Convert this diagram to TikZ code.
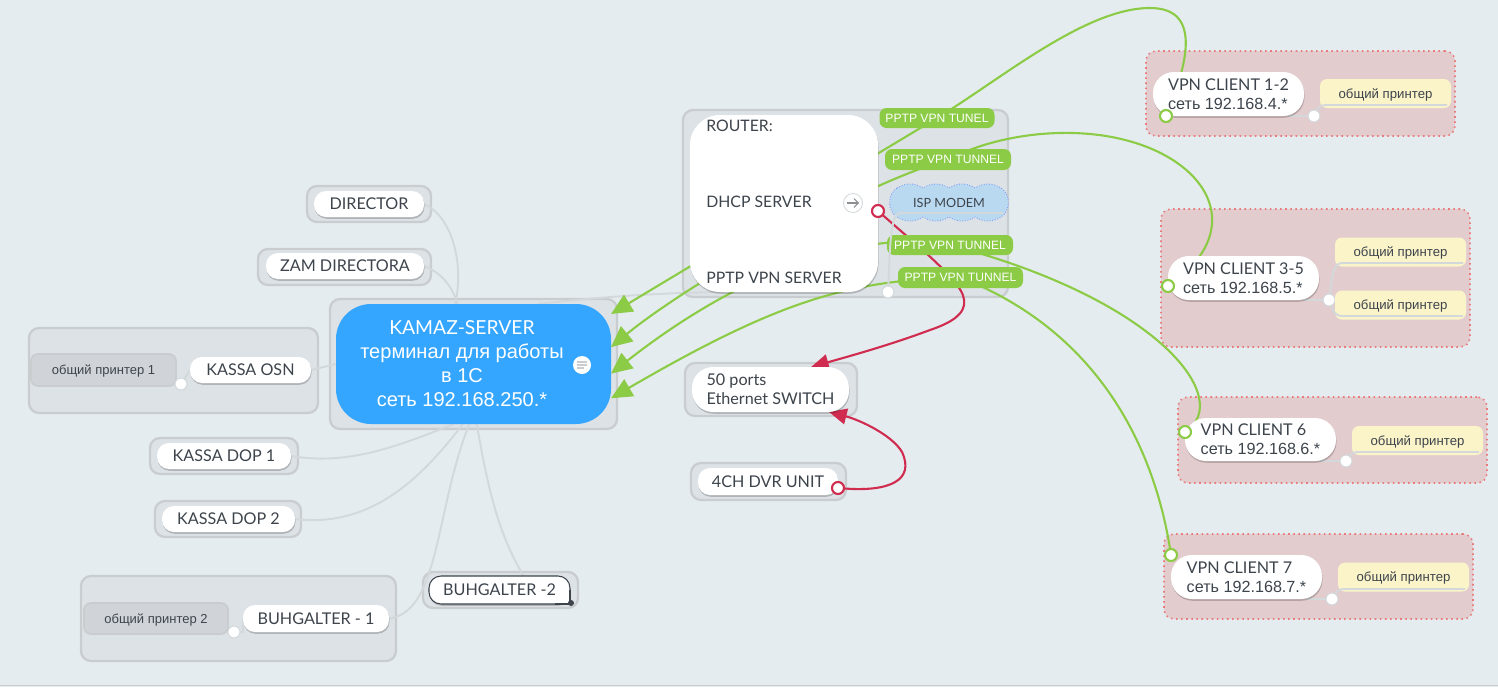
\documentclass[tikz,border=0pt]{standalone}
\usepackage{fontspec}
\setmainfont{Lato}
\newfontfamily\rufont{Liberation Sans}
\usetikzlibrary{arrows.meta,positioning,shadows}
\definecolor{pagebg}{HTML}{E5ECF0}
\definecolor{grpfill}{HTML}{DDE2E6}
\definecolor{grpline}{HTML}{C9CDD0}
\definecolor{linkgrey}{HTML}{D3D8DB}
\definecolor{pinkfill}{HTML}{E3CCCE}
\definecolor{pinkline}{HTML}{E87C7C}
\definecolor{srvblue}{HTML}{35A6FF}
\definecolor{tungreen}{HTML}{8CCB45}
\definecolor{redlink}{HTML}{D02C50}
\definecolor{prnyellow}{HTML}{FBF4C9}
\definecolor{inktext}{HTML}{3D444C}
\definecolor{cloudblue}{HTML}{B9D9F0}
\pgfdeclarelayer{back}
\pgfdeclarelayer{links}
\pgfdeclarelayer{front}
\pgfsetlayers{back,links,main,front}
\tikzset{every shadow/.style={fill=black,opacity=0.2,shadow xshift=0.3pt,shadow yshift=-1pt}}
\tikzset{sz/.style 2 args={minimum width=#1*0.02cm,minimum height=#2*0.02cm,inner sep=0pt,outer sep=0pt}}
\tikzset{grpbox/.style={rectangle,rounded corners=0.2cm,draw=grpline,line width=1.3pt,fill=grpfill}}
\tikzset{pinkbox/.style={rectangle,rounded corners=0.2cm,draw=pinkline,line width=0.9pt,dotted,fill=pinkfill}}
\tikzset{pill/.style={rectangle,rounded corners=0.24cm,fill=white,drop shadow,text=inktext,align=left,font=\fontsize{9.2}{10.6}\selectfont}}
\tikzset{pilltwo/.style={pill,rounded corners=0.42cm}}
\tikzset{tunlabel/.style={rectangle,rounded corners=0.14cm,fill=tungreen,text=white,font=\rufont\fontsize{6.9}{8}\selectfont}}
\tikzset{prnyel/.style={rectangle,rounded corners=0.14cm,fill=prnyellow,text=inktext,text depth=0pt,font=\rufont\fontsize{7.5}{8}\selectfont}}
\tikzset{prngrey/.style={rectangle,rounded corners=0.14cm,draw=grpline,line width=1pt,fill=grpfill!94!black,text=inktext,text depth=0pt,font=\rufont\fontsize{7.4}{8}\selectfont}}
\tikzset{whitedot/.style={circle,sz={12}{12},fill=white,draw=linkgrey,line width=0.6pt}}
\tikzset{greendot/.style={circle,sz={12}{12},fill=white,draw=tungreen,line width=1.2pt}}
\tikzset{reddot/.style={circle,sz={12}{12},fill=white,draw=redlink,line width=1.2pt}}
\tikzset{routertxt/.style={anchor=west,inner sep=0pt,text=inktext,font=\fontsize{9}{11}\selectfont}}
\tikzset{greylink/.style={draw=linkgrey,line width=1.1pt}}
\tikzset{greenlink/.style={draw=tungreen,line width=1.2pt,-{Triangle[length=12pt,width=11pt]}}}
\tikzset{redarrow/.style={draw=redlink,line width=1.2pt,-{Triangle[length=10pt,width=9pt]}}}
\begin{document}
\begin{tikzpicture}[x=0.02cm,y=-0.02cm]
\useasboundingbox (0,0) rectangle (1498,687);
% groups
\begin{pgfonlayer}{back}
\fill[pagebg] (0,0) rectangle (1498,687);
\draw[grpline,line width=0.6pt] (0,685.5) -- (1498,685.5);
\node (grpdirector) [grpbox,sz={124}{36}] at (369,204) {};
\node (grpzam) [grpbox,sz={173}{36}] at (344.5,267) {};
\node (grpkassa) [grpbox,sz={289}{85}] at (173.5,370.5) {};
\node (grpserver) [grpbox,sz={287}{130}] at (473.5,364) {};
\node (grpdop1) [grpbox,sz={148}{36}] at (224,456) {};
\node (grpdop2) [grpbox,sz={146}{36}] at (228,519) {};
\node (grpbuh1) [grpbox,sz={315}{85}] at (238.5,618.5) {};
\node (grpbuh2) [grpbox,sz={155}{36}] at (500.5,590) {};
\node (grprouter) [grpbox,sz={325}{187}] at (845.5,203.5) {};
\node (grpswitch) [grpbox,sz={172}{53}] at (771,389.5) {};
\node (grpdvr) [grpbox,sz={155}{37}] at (768.5,481.5) {};
\node (grpvpn12) [pinkbox,sz={309}{85}] at (1300.5,93.5) {};
\node (grpvpn35) [pinkbox,sz={309}{138}] at (1315.5,278) {};
\node (grpvpn6) [pinkbox,sz={309}{86}] at (1332.5,440) {};
\node (grpvpn7) [pinkbox,sz={309}{85}] at (1318.5,576.5) {};
\end{pgfonlayer}
% left side
\node (director) [pill,sz={110}{26}] at (369,204) {DIRECTOR};
\node (zam) [pill,sz={158}{26}] at (345,266) {ZAM DIRECTORA};
\node (kassaosn) [pill,sz={121}{26}] at (250.5,370) {KASSA OSN};
\node (prn1) [prngrey,sz={145}{32}] at (103.5,370) {общий принтер 1};
\node (dotkassa) [whitedot] at (181,384) {};
\node (server) [rectangle,rounded corners=0.7cm,fill=srvblue,sz={275}{120}] at (473.5,364) {};
\node (servertxt) [align=center,text=white,font=\rufont\fontsize{11.4}{13.65}\selectfont] at (462,364) {{\fontspec{Lato}\fontsize{11}{13.65}\selectfont KAMAZ-SERVER}\\терминал для работы\\в 1С\\сеть 192.168.250.*};
\node (noteicon) [circle,sz={18}{18},fill=white] at (582,365) {};
\draw[grpline,line width=0.6pt] ([shift={(-5,-3)}]noteicon.center) -- +(10,0) ([shift={(-5,0)}]noteicon.center) -- +(10,0) ([shift={(-5,3)}]noteicon.center) -- +(7,0);
\node (dop1) [pill,sz={134}{26}] at (224,456) {KASSA DOP 1};
\node (dop2) [pill,sz={133}{26}] at (228.5,519) {KASSA DOP 2};
\node (buh1) [pill,sz={146}{27}] at (316,618.5) {BUHGALTER - 1};
\node (prn2) [prngrey,sz={144}{31}] at (156,618.5) {общий принтер 2};
\node (dotbuh) [whitedot] at (234,632) {};
\node (buh2) [pill,sz={141}{28},draw=inktext,line width=0.6pt] at (499.5,590) {BUHGALTER -2};
\draw[inktext,line width=0.6pt,fill=white] (570,590) -- (570,604) -- (555,604);
\node (dotsel) [circle,sz={6}{6},fill=inktext] at (571,603) {};
% router
\node (router) [rectangle,rounded corners=0.6cm,fill=white,drop shadow,sz={188}{177}] at (784,203.5) {};
\node (routerlbl) [routertxt] at (706,126) {ROUTER:};
\node (dhcplbl) [routertxt] at (706,202) {DHCP SERVER};
\node (pptplbl) [routertxt] at (706,278) {PPTP VPN SERVER};
\node (arrowicon) [circle,sz={19}{19},fill=white,draw=linkgrey,line width=0.5pt] at (853,203) {};
\draw[-{Straight Barb[length=2.5pt,width=5pt]},grpline!70!black,line width=0.6pt] ([xshift=-3.5pt]arrowicon.center) -- ([xshift=3.5pt]arrowicon.center);
\node (dotred) [reddot] at (878,211) {};
\node (dotrouter) [whitedot] at (888,292) {};
\draw[cloudblue!70!blue,densely dotted,line width=0.5pt,fill=cloudblue] (897,188) \foreach \cx in {923,949,975,1001} { to[bend left=32] (\cx,188) } to[bend left=60] (1001,217) \foreach \cx in {975,949,923,897} { to[bend left=32] (\cx,217) } to[bend left=60] (897,188);
\node (modem) [sz={108}{20},text=inktext,font=\fontsize{7.2}{9}\selectfont] at (949,203) {ISP MODEM};
\node (tun1) [tunlabel,sz={115}{20}] at (937,118) {PPTP VPN TUNEL};
\node (tun2) [tunlabel,sz={126}{21}] at (948,159.5) {PPTP VPN TUNNEL};
\node (tun3) [tunlabel,sz={126}{20}] at (950,245) {PPTP VPN TUNNEL};
\node (tun4) [tunlabel,sz={125}{21}] at (960.5,277.5) {PPTP VPN TUNNEL};
% switch and dvr
\node (switch) [pilltwo,sz={157}{45}] at (770.5,389.5) {50 ports\\Ethernet SWITCH};
\node (dvr) [pill,sz={140}{27}] at (768,481.5) {4CH DVR UNIT};
\node (dotdvr) [reddot] at (838,488) {};
% vpn clients
\node (vpn12) [pilltwo,sz={151}{44}] at (1228.5,94) {VPN CLIENT 1-2\\{\rufont сеть 192.168.4.*}};
\node (dot12) [greendot] at (1166,116) {};
\node (wdot12) [whitedot] at (1314,116) {};
\node (prn12) [prnyel,sz={131}{29}] at (1385.5,93.5) {общий принтер};
\node (vpn35) [pilltwo,sz={151}{44}] at (1243.5,278) {VPN CLIENT 3-5\\{\rufont сеть 192.168.5.*}};
\node (dot35) [greendot] at (1168,286) {};
\node (wdot35) [whitedot] at (1329,300) {};
\node (prn35a) [prnyel,sz={131}{29}] at (1400.5,252) {общий принтер};
\node (prn35b) [prnyel,sz={131}{29}] at (1400.5,305) {общий принтер};
\node (vpn6) [pilltwo,sz={151}{43}] at (1260.5,439.5) {VPN CLIENT 6\\{\rufont сеть 192.168.6.*}};
\node (dot6) [greendot] at (1185,432) {};
\node (wdot6) [whitedot] at (1346,461) {};
\node (prn6) [prnyel,sz={131}{29}] at (1417.5,440.5) {общий принтер};
\node (vpn7) [pilltwo,sz={151}{44}] at (1246.5,577) {VPN CLIENT 7\\{\rufont сеть 192.168.7.*}};
\node (dot7) [greendot] at (1171,555) {};
\node (wdot7) [whitedot] at (1332,599) {};
\node (prn7) [prnyel,sz={131}{29}] at (1403.5,577) {общий принтер};
%
\begin{pgfonlayer}{front}
% underlines of the children
\draw[greylink] (dotrouter) .. controls (890,250) and (890,213) .. (900,213) -- (modem.south east);
\draw[greylink] (wdot12) .. controls (1318,108) and (1320,105) .. (1327,105) -- (1447,105);
\draw[greylink] (wdot35) .. controls (1332,280) and (1332,263) .. (1342,263) -- (1463,263);
\draw[greylink] (wdot35) .. controls (1333,310) and (1335,316) .. (1342,316) -- (1463,316);
\draw[greylink] (wdot6) .. controls (1350,455) and (1352,452) .. (1359,452) -- (1479,452);
\draw[greylink] (wdot7) .. controls (1336,592) and (1338,589) .. (1345,589) -- (1465,589);
\end{pgfonlayer}
\begin{pgfonlayer}{links}
% grey branches
\draw[greylink] (director.east) .. controls (450,215) and (465,260) .. (server.107);
\draw[greylink] (zam.east) .. controls (440,272) and (452,285) .. (server.105);
\draw[greylink] (kassaosn.east) -- (server.180);
\draw[greylink] (dop1.east) .. controls (350,466) and (400,445) .. (server.252);
\draw[greylink] (dop2.east) .. controls (370,528) and (420,480) .. (server.260);
\draw[greylink] (buh1.east) .. controls (440,612) and (435,510) .. (server.266);
\draw[greylink] (buh2.30) .. controls (495,530) and (485,470) .. (server.273);
\draw[greylink] (server.43) .. controls (610,296) and (660,293) .. (router.235);
\draw[greylink] (kassaosn.west) -- (dotkassa);
\draw[greylink] (buh1.west) |- (dotbuh);
\draw[greylink] (vpn12.-20) -- (wdot12);
\draw[greylink] (vpn35.-20) -- (wdot35);
\draw[greylink] (vpn6.-20) -- (wdot6);
\draw[greylink] (vpn7.-20) -- (wdot7);
% green tunnels
\draw[greenlink] (dot12.center) .. controls (1185,70) and (1205,8) .. (1150,8) .. controls (1085,8) and (1000,80) .. (tun1.center) -- (server.20);
\draw[greenlink] (dot35.center) .. controls (1265,220) and (1190,130) .. (1060,133) .. controls (1010,134) and (970,148) .. (tun2.center) .. controls (850,188) and (680,290) .. (server.7);
\draw[greenlink] (dot6.center) .. controls (1235,400) and (1160,300) .. (tun3.center) .. controls (850,228) and (730,280) .. (server.-4.6);
\draw[greenlink] (dot7.center) .. controls (1160,480) and (1120,340) .. (tun4.center) .. controls (850,280) and (780,300) .. (server.-14.7);
% red links
\draw[redarrow] (dotred) -- (925,252) .. controls (960,285) and (990,310) .. (930,330) .. controls (890,345) and (850,356) .. (switch.29);
\draw[redarrow] (dotdvr) .. controls (890,492) and (915,480) .. (902,452) .. controls (892,435) and (860,420) .. (switch.-21);
\end{pgfonlayer}
\end{tikzpicture}
\end{document}
